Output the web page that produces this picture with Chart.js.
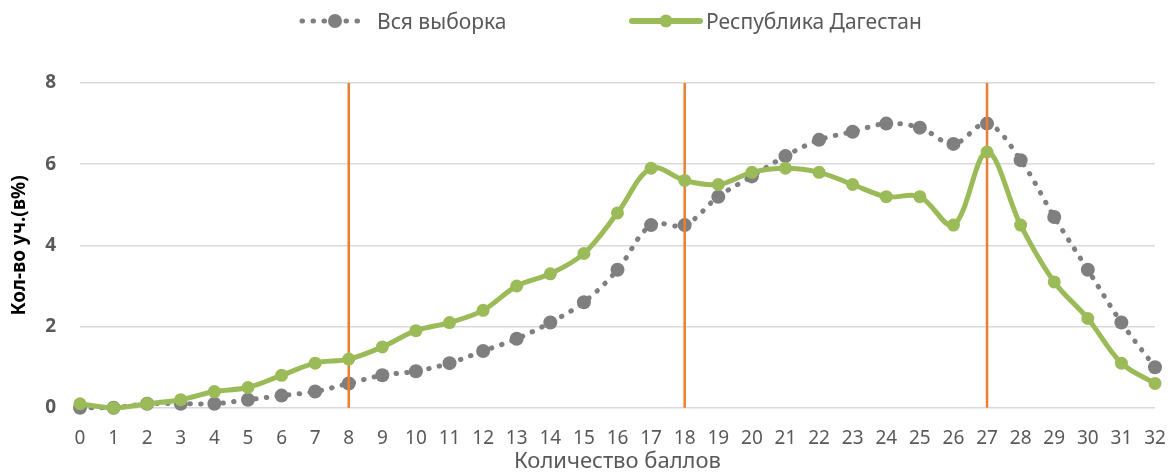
<!DOCTYPE html>
<html>
<head>
<meta charset="utf-8">
<script src="https://cdn.jsdelivr.net/npm/chart.js@4/dist/chart.umd.min.js"></script>
<style>
  html, body { margin: 0; padding: 0; background: #fff; }
  #wrap { position: relative; width: 1170px; height: 472px; }
  #legend { position: absolute; top: 0; left: 0; width: 1170px; height: 40px; font-family: "Noto Sans", "Liberation Sans", sans-serif; font-size: 21px; color: #595959; }
  .li { position: absolute; top: 8px; height: 26px; line-height: 26px; white-space: nowrap; }
  svg.ic { position: absolute; top: 11px; }
</style>
</head>
<body>
<div id="wrap">
  <canvas id="c" width="1170" height="472"></canvas>
  <div id="legend">
    <svg class="ic" style="left:298px" width="70" height="20">
      <line x1="4" y1="10" x2="66" y2="10" stroke="#7f7f7f" stroke-width="5" stroke-linecap="round" stroke-dasharray="0.5 10.5"/>
      <circle cx="37" cy="10" r="7" fill="#7f7f7f"/>
    </svg>
    <span class="li" style="left:377px">Вся выборка</span>
    <svg class="ic" style="left:627px" width="78" height="20">
      <line x1="5" y1="10" x2="73" y2="10" stroke="#9bbb59" stroke-width="6" stroke-linecap="round"/>
      <circle cx="39" cy="10" r="6.5" fill="#9bbb59"/>
    </svg>
    <span class="li" style="left:706px">Республика Дагестан</span>
  </div>
</div>
<script>
const scores = [0,1,2,3,4,5,6,7,8,9,10,11,12,13,14,15,16,17,18,19,20,21,22,23,24,25,26,27,28,29,30,31,32];
const allSample = [0,0,0.1,0.1,0.1,0.2,0.3,0.4,0.6,0.8,0.9,1.1,1.4,1.7,2.1,2.6,3.4,4.5,4.5,5.2,5.7,6.2,6.6,6.8,7.0,6.9,6.5,7.0,6.1,4.7,3.4,2.1,1.0];
const dagestan = [0.1,0,0.1,0.2,0.4,0.5,0.8,1.1,1.2,1.5,1.9,2.1,2.4,3.0,3.3,3.8,4.8,5.9,5.6,5.5,5.8,5.9,5.8,5.5,5.2,5.2,4.5,6.3,4.5,3.1,2.2,1.1,0.6];
const markers = [8, 18, 27];
const yTicks = [0, 2, 4, 6, 8];
const seriesNames = ['Вся выборка', 'Республика Дагестан'];
const xTitle = 'Количество баллов';
const yTitle = 'Кол-во уч.(в%)';

const FONT = '"Noto Sans", "Liberation Sans", sans-serif';
const toXY = (arr) => arr.map((v, i) => ({x: scores[i], y: v}));

const datasets = [
  {
    label: seriesNames[1],
    data: toXY(dagestan),
    borderColor: '#9bbb59',
    backgroundColor: '#9bbb59',
    borderWidth: 5,
    pointRadius: 6.5,
    pointBorderWidth: 0,
    tension: 0.35,
    clip: false,
    order: 0
  },
  ...markers.map(m => ({
    label: 'm' + m,
    data: [{x: m, y: 0}, {x: m, y: yTicks[yTicks.length - 1]}],
    borderColor: '#ed7d31',
    borderWidth: 2.5,
    pointRadius: 0,
    tension: 0,
    clip: false,
    order: 1
  })),
  {
    label: seriesNames[0],
    data: toXY(allSample),
    borderColor: '#7f7f7f',
    backgroundColor: '#7f7f7f',
    borderWidth: 5,
    borderDash: [0.5, 10.5],
    borderCapStyle: 'round',
    pointRadius: 7,
    pointBorderWidth: 0,
    tension: 0.35,
    clip: false,
    order: 2
  }
];

new Chart(document.getElementById('c'), {
  type: 'line',
  data: { datasets },
  options: {
    responsive: false,
    animation: false,
    layout: { padding: { top: 83, right: 0, left: 8, bottom: 0 } },
    plugins: { legend: { display: false }, tooltip: { enabled: false } },
    scales: {
      x: {
        type: 'linear',
        min: scores[0],
        max: scores[scores.length - 1],
        afterFit: (s) => { s.paddingRight = 15; s.paddingLeft = 0; },
        grid: { display: false, drawTicks: false },
        border: { display: false },
        ticks: {
          stepSize: 1,
          autoSkip: false,
          maxRotation: 0,
          padding: 19,
          color: '#595959',
          font: { family: FONT, size: 19 },
          callback: (v) => v
        },
        title: {
          display: true,
          text: xTitle,
          color: '#595959',
          font: { family: FONT, size: 22 },
          padding: { top: -20, bottom: -3 }
        }
      },
      y: {
        min: yTicks[0],
        max: yTicks[yTicks.length - 1],
        afterBuildTicks: (s) => { s.ticks = yTicks.map(v => ({value: v})); },
        afterFit: (s) => { s.width = 72; },
        grid: { color: '#d9d9d9', lineWidth: 1.5, drawTicks: false },
        border: { display: false },
        ticks: {
          padding: 24,
          color: '#595959',
          font: { family: FONT, size: 19, weight: 'bold' }
        },
        title: {
          display: true,
          text: yTitle,
          color: '#000000',
          font: { family: FONT, size: 19, weight: 'bold' },
          padding: { top: 0, bottom: 0 }
        }
      }
    }
  }
});
</script>
</body>
</html>
